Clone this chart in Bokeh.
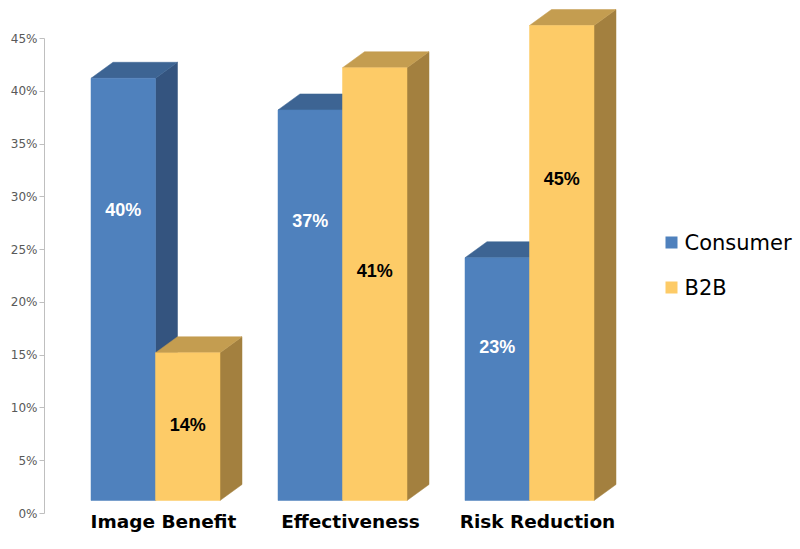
from bokeh.plotting import figure
from bokeh.models import Range1d, FixedTicker, ColumnDataSource
from bokeh.core.properties import value
from bokeh.embed import file_html
from bokeh.resources import INLINE

# ---- data ----
categories = ["Image Benefit", "Effectiveness", "Risk Reduction"]
series_names = ["Consumer", "B2B"]
consumer = [40, 37, 23]
b2b = [14, 41, 45]
y_ticks = [0, 5, 10, 15, 20, 25, 30, 35, 40, 45]

# ---- styling / layout ----
W, H = 800, 549
LEFT = 44
PX_PER_PCT = 475 / 45.0          # 45% spans 475 px
ZERO_PX = 513                    # screen y of 0%
y_start = -(H - ZERO_PX) / PX_PER_PCT
y_end = ZERO_PX / PX_PER_PCT

group0 = 155      # x of the junction between the two bars of group 0
group_step = 187
bar_w = 64.5
dx = 22                           # depth offset in x (px)
dy = 16 / PX_PER_PCT              # depth offset in y (pct)
base = 13 / PX_PER_PCT            # front face baseline lift

colors = {
    "Consumer": dict(front="#4F81BD", top="#3D6493", side="#34547F", label="white"),
    "B2B": dict(front="#FDCB67", top="#C49D50", side="#A3803F", label="black"),
}
label_frac = {"Consumer": [0.72, 0.75, 0.684], "B2B": [0.602, 0.561, 0.704]}

p = figure(width=W, height=H, output_backend="svg", toolbar_location=None,
           x_range=Range1d(LEFT, W), y_range=Range1d(y_start, y_end),
           min_border_left=LEFT, min_border_right=0, min_border_top=0, min_border_bottom=0)
p.xaxis.visible = False
p.grid.visible = False
p.outline_line_color = None
p.background_fill_color = "white"
p.border_fill_color = "white"

ax = p.yaxis[0]
ax.ticker = FixedTicker(ticks=y_ticks)
ax.major_label_overrides = {t: f"{t}%" for t in y_ticks}
ax.bounds = (0, 45)
ax.axis_line_color = "#BFBFBF"
ax.major_tick_line_color = "#BFBFBF"
ax.minor_tick_line_color = None
ax.major_tick_out = 5
ax.major_tick_in = 0
ax.major_label_standoff = 2
ax.major_label_text_font = "DejaVu Sans"
ax.major_label_text_font_size = "12px"
ax.major_label_text_color = "#595959"

for s_idx, (name, vals) in enumerate(zip(series_names, [consumer, b2b])):
    c = colors[name]
    lefts = [group0 + i * group_step + (s_idx - 1) * bar_w for i in range(len(vals))]
    rights = [l + bar_w for l in lefts]
    tops = [base + v for v in vals]
    side_xs = [[r, r, r + dx, r + dx] for r in rights]
    side_ys = [[base, t, t + dy, base + dy] for t in tops]
    top_xs = [[l, l + dx, r + dx, r] for l, r in zip(lefts, rights)]
    top_ys = [[t, t + dy, t + dy, t] for t in tops]
    p.patches(side_xs, side_ys, fill_color=c["side"], line_color=c["side"], line_width=0.5)
    p.patches(top_xs, top_ys, fill_color=c["top"], line_color=c["top"], line_width=0.5)
    p.quad(left=lefts, right=rights, bottom=[base] * len(vals), top=tops,
           fill_color=c["front"], line_color=c["front"], line_width=0.5)
    src = ColumnDataSource(dict(
        x=[(l + r) / 2 for l, r in zip(lefts, rights)],
        y=[v * f for v, f in zip(vals, label_frac[name])],
        t=[f"{v}%" for v in vals]))
    p.text(x="x", y="y", text="t", source=src, text_align="center", text_baseline="middle",
           text_font=value("Liberation Sans"), text_font_style="bold",
           text_font_size="18px", text_color=c["label"])

# category labels
cat_src = ColumnDataSource(dict(
    x=[group0 + i * group_step + 8 for i in range(len(categories))],
    y=[-8 / PX_PER_PCT] * len(categories),
    t=categories))
p.text(x="x", y="y", text="t", source=cat_src, text_align="center", text_baseline="middle",
       text_font=value("DejaVu Sans"), text_font_style="bold", text_font_size="18.5px",
       text_color="black")

# legend
leg_x = 665
leg_y_px = [242, 287]
for name, ypx in zip(series_names, leg_y_px):
    yv = (ZERO_PX - ypx) / PX_PER_PCT
    half = 6 / PX_PER_PCT
    p.quad(left=[leg_x], right=[leg_x + 12], bottom=[yv - half], top=[yv + half],
           fill_color=colors[name]["front"], line_color=None)
    p.text(x=[leg_x + 19], y=[yv], text=[name], text_align="left", text_baseline="middle",
           text_font=value("DejaVu Sans"), text_font_size="21px", text_color="black")

open("out.html", "w").write(file_html(p, INLINE))
